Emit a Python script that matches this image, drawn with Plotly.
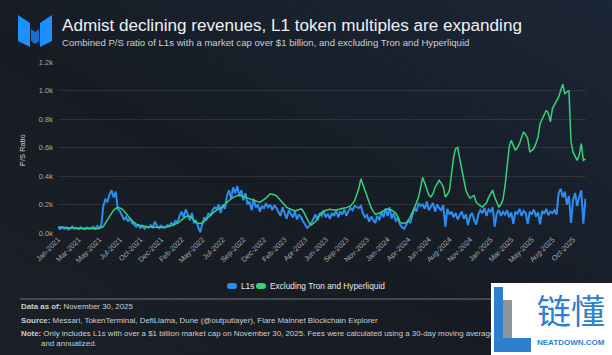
import base64
import pandas as pd
import plotly.graph_objects as go

# ---------------- data (weekly readings, Jan 2021 - Nov 2025) ----------------
start_date = "2021-01-01"

l1s = [
    35, 28, 42, 30, 38, 25, 33, 45, 30, 36, 28, 40, 32, 26, 38, 30,
    35, 42, 30, 48, 38, 52,
    190, 235, 220, 270, 300, 250, 290, 170,
    154, 120, 95, 110, 80, 105, 70, 60,
    45, 55, 35, 50, 30, 45, 38, 55, 40, 80, 48, 35, 52, 42, 38,
    55, 48, 70, 60, 85, 75,
    120, 150, 110, 165, 130,
    90, 140, 70, 85,
    40, 5, 60,
    110, 90, 140, 120, 160, 180, 170, 200,
    140, 200, 170, 260, 300, 240, 320, 280, 330, 260, 300, 230, 280, 200,
    220, 160, 240, 180, 200, 150, 190, 170,
    210, 180, 200, 160, 195, 175,
    150, 120, 180, 140, 100, 160, 130, 110, 150, 95, 130, 110, 80,
    60, 35, 50, 70,
    100, 130, 90, 140, 120, 150, 110, 135, 100,
    140, 120, 160, 110, 150, 130, 165, 120, 155, 175, 160, 190,
    185, 175, 190,
    140, 110, 125, 80, 115, 90, 70,
    120, 90, 150, 110, 170, 120, 180, 100, 140, 80, 110, 60,
    40, 30, 55, 90, 70,
    130, 180, 150, 210, 190,
    200, 170, 220, 160, 190, 210, 150, 200, 175, 160, 195, 45, 170,
    130, 150, 110, 140, 95, 125, 150, 100, 130, 55, 120, 140, 90, 60, 130,
    160, 140, 175, 120, 165, 150, 180, 45, 140, 160, 120,
    150, 130, 160, 110, 145, 65, 150, 135, 170, 120, 155, 140, 65, 150,
    130, 165, 115, 145, 60, 155, 135, 170, 125, 150, 140, 160, 130,
    280, 310, 250, 290, 200, 260, 70, 230, 280, 190, 250, 300, 65, 240,
]

excl_tron_hl = [
    42, 40, 38, 36, 35, 34, 35, 36, 34, 33, 32, 34, 33, 32, 31, 32,
    32, 33, 31, 30, 32, 36,
    44, 70, 93, 120, 145, 160, 172, 178, 176, 170, 155, 135, 118, 100, 85, 72, 62, 56, 52, 48,
    46, 44, 42, 41, 40, 40, 41, 42, 40, 39, 40,
    42, 45, 50, 56, 62, 70,
    80, 92, 105, 115, 120,
    118, 105, 88, 75,
    68, 66, 70,
    80, 95, 110, 125, 140, 150, 160, 168,
    172, 185, 200, 215, 228, 240, 250, 258, 262, 265, 262, 256, 250, 245,
    240, 232, 225, 220, 217, 215, 225, 235, 245, 262, 275, 272, 268, 262,
    245, 227, 208, 190, 180, 172, 166, 160, 154, 160, 168, 170, 154, 125, 93, 70, 56,
    65, 80, 105, 130, 145, 155, 160, 163, 166, 164, 162, 160, 165, 170, 172, 175, 178, 184, 190, 208, 227, 270,
    312, 380, 337, 295, 250, 212, 178, 152, 130,
    135, 140, 146, 156, 166, 168, 166, 160, 150, 141, 110,
    75, 68, 70, 72, 85, 110, 145, 175, 215, 250, 320, 390, 350,
    300, 265, 253, 276, 320, 346, 370, 350, 323, 253, 270, 300, 420, 530, 592, 600,
    520, 440, 370, 300, 265, 245, 255, 262, 215, 200, 190, 182, 195, 212, 250, 280,
    300, 250, 210, 182, 200, 235, 330, 460,
    604, 650, 620, 580, 600, 627, 670, 710, 690, 662, 568, 580, 592, 630, 674,
    767, 800, 838, 861, 840, 780, 873, 900, 920, 955, 1000, 1044, 978, 990, 1000, 640,
    568, 540, 510, 545, 627, 510, 520,
]

x_tick_labels = [
    "Jan-2021", "Mar-2021", "May-2021", "Jul-2021", "Oct-2021", "Dec-2021",
    "Feb-2022", "May-2022", "Jul-2022", "Sep-2022", "Dec-2022", "Feb-2023",
    "Apr-2023", "Jun-2023", "Sep-2023", "Nov-2023", "Jan-2024", "Apr-2024",
    "Jun-2024", "Aug-2024", "Nov-2024", "Jan-2025", "Mar-2025", "May-2025",
    "Aug-2025", "Oct-2025",
]
y_tick_values = [0, 200, 400, 600, 800, 1000, 1200]
y_tick_labels = ["0.0k", "0.2k", "0.4k", "0.6k", "0.8k", "1.0k", "1.2k"]

series_names = ["L1s", "Excluding Tron and Hyperliquid"]

# ---------------- layout helpers ----------------
W, H = 612, 355
L, R, T, B = 58, 586, 62, 233


def fx(p):
    return (p - L) / (R - L)


def fy(p):
    return (B - p) / (B - T)


BG = "#181e26"
BLUE = "#2b8ef0"
GREEN = "#34d27b"
FONT = "Liberation Sans, Arial, sans-serif"

# subtle diagonal background gradient (dark grey at bottom-left, navy at top-right)
svg = (
    '<svg xmlns="http://www.w3.org/2000/svg" width="612" height="355">'
    '<defs><linearGradient id="g" x1="0" y1="1" x2="1" y2="0">'
    '<stop offset="0" stop-color="#1b2027"/>'
    '<stop offset="0.45" stop-color="#171c24"/>'
    '<stop offset="1" stop-color="#1b2636"/>'
    '</linearGradient></defs>'
    '<rect width="612" height="355" fill="url(#g)"/></svg>'
)
bg_src = "data:image/svg+xml;base64," + base64.b64encode(svg.encode()).decode()

dates_blue = pd.date_range(start_date, periods=len(l1s), freq="7D")
dates_green = pd.date_range(start_date, periods=len(excl_tron_hl), freq="7D")
tick_vals = [pd.Timestamp(start_date) + pd.Timedelta(days=70 * k) for k in range(len(x_tick_labels))]

fig = go.Figure()
fig.add_trace(go.Scatter(x=dates_blue, y=l1s, mode="lines", name=series_names[0],
                         line=dict(color=BLUE, width=2), showlegend=False))
fig.add_trace(go.Scatter(x=dates_green, y=excl_tron_hl, mode="lines", name=series_names[1],
                         line=dict(color=GREEN, width=1.5), showlegend=False))


def pill(x0, x1, y0, y1, color):
    r = (y1 - y0) / 2.0
    pts = [
        ("M", x0 + r, y0), ("L", x1 - r, y0), ("Q", x1, y0, x1, y0 + r),
        ("Q", x1, y1, x1 - r, y1), ("L", x0 + r, y1), ("Q", x0, y1, x0, y0 + r),
        ("Q", x0, y0, x0 + r, y0),
    ]
    s = ""
    for p in pts:
        if p[0] == "Q":
            s += f"Q{fx(p[1]):.5f},{fy(p[2]):.5f} {fx(p[3]):.5f},{fy(p[4]):.5f} "
        else:
            s += f"{p[0]}{fx(p[1]):.5f},{fy(p[2]):.5f} "
    s += "Z"
    return dict(type="path", path=s, xref="paper", yref="paper",
                fillcolor=color, line=dict(width=0))


def poly(points, color):
    s = "M" + " L".join(f"{fx(a):.5f},{fy(b):.5f}" for a, b in points) + " Z"
    return dict(type="path", path=s, xref="paper", yref="paper",
                fillcolor=color, line=dict(width=0))


shapes = [
    # logo
    poly([(18, 15), (30, 23), (30, 47), (18, 41)], "#1e8fff"),
    poly([(31, 29), (35, 32), (39, 29), (39, 41), (35, 44), (31, 41)], "#1670d0"),
    poly([(40, 23), (52, 15), (52, 41), (40, 47)], "#1e8fff"),
    # legend pills
    pill(227, 237, 283, 289, BLUE),
    pill(256, 266, 283, 289, GREEN),
    # footer rule
    dict(type="line", xref="paper", yref="paper", x0=fx(20), x1=fx(605), y0=fy(299), y1=fy(299),
         line=dict(color="rgba(170,175,182,0.6)", width=1)),
]


def ann(text, x, y, size, color, xanchor="left", yanchor="middle", **kw):
    return dict(text=text, x=fx(x), y=fy(y), xref="paper", yref="paper",
                xanchor=xanchor, yanchor=yanchor, showarrow=False,
                font=dict(size=size, color=color, family=kw.pop("family", FONT)), **kw)


def box(x0, y0, x1, y1, color):
    return dict(text=" ", x=fx(x0), y=fy(y0), xref="paper", yref="paper",
                xanchor="left", yanchor="top", showarrow=False, width=x1 - x0, height=y1 - y0,
                bgcolor=color, borderpad=0, borderwidth=0, font=dict(size=1))


annotations = [
    ann("Admist declining revenues, L1 token multiples are expanding", 60, 25, 17.1, "#eef1f4"),
    ann("Combined P/S ratio of L1s with a market cap over $1 billion, and excluding Tron and Hyperliquid",
        60, 42, 9.6, "#c9ced4"),
    ann("P/S Ratio", 22, 150, 7.5, "#c9ced4", xanchor="center", textangle=-90),
    ann("L1s", 239, 286, 8.3, "#e6e9ec"),
    ann("Excluding Tron and Hyperliquid", 268, 286, 8.3, "#e6e9ec"),
    ann("<b>Data as of:</b> November 30, 2025", 19, 306, 7.9, "#c9ced4"),
    ann("<b>Source:</b> Messari, TokenTerminal, DefiLlama, Dune (@outputlayer), Flare Mainnet Blockchain Explorer",
        19, 320, 7.9, "#c9ced4"),
    ann("<b>Note:</b> Only includes L1s with over a $1 billion market cap on November 30, 2025. "
        "Fees were calculated using a 30-day moving average", 19, 333, 7.9, "#c9ced4"),
    ann("and annualized.", 39, 343, 7.9, "#c9ced4"),
    # watermark (drawn on top)
    box(491, 283, 612, 355, "#ffffff"),
    box(494, 287, 503, 352, "#2d7fd0"),
    box(503, 300, 512, 338, "#8e9499"),
    box(494, 338, 531, 352, "#2d7fd0"),
    ann("链懂", 571, 309, 34, "#2d7fd0", xanchor="center",
        family="Noto Sans CJK SC, sans-serif"),
    ann("<b>NEATDOWN.COM</b>", 571, 342, 8, "#2d7fd0", xanchor="center"),
]

fig.update_layout(
    width=W, height=H,
    margin=dict(l=L, r=W - R, t=T, b=H - B),
    paper_bgcolor=BG, plot_bgcolor="rgba(0,0,0,0)",
    font=dict(family=FONT, color="#9aa1a9"),
    shapes=shapes,
    annotations=annotations,
    images=[dict(source=bg_src, xref="paper", yref="paper", x=fx(0), y=fy(0),
                 sizex=fx(W) - fx(0), sizey=fy(0) - fy(H), xanchor="left", yanchor="top",
                 sizing="stretch", layer="below")],
    showlegend=False,
)
fig.update_xaxes(
    type="date", range=[pd.Timestamp(start_date), pd.Timestamp("2025-11-30")],
    tickmode="array", tickvals=tick_vals, ticktext=x_tick_labels,
    tickangle=-45, tickfont=dict(size=7.3, color="#a3aab1"),
    showgrid=False, zeroline=False, showline=False, ticks="",
)
fig.update_yaxes(
    range=[0, 1200], tickmode="array", tickvals=y_tick_values, ticktext=y_tick_labels,
    tickfont=dict(size=7.5, color="#a3aab1"), showgrid=True,
    gridcolor="rgba(255,255,255,0.09)", gridwidth=1, zeroline=False, showline=False, ticks="",
    ticklabelstandoff=4,
)

fig.write_html("out.html", config={"displayModeBar": False})

# remove the default page margin so the figure sits at the window origin
with open("out.html", "r", encoding="utf-8") as f:
    html = f.read()
html = html.replace("<head>", "<head><style>html,body{margin:0;padding:0;overflow:hidden;background:%s;}</style>" % BG, 1)
with open("out.html", "w", encoding="utf-8") as f:
    f.write(html)
